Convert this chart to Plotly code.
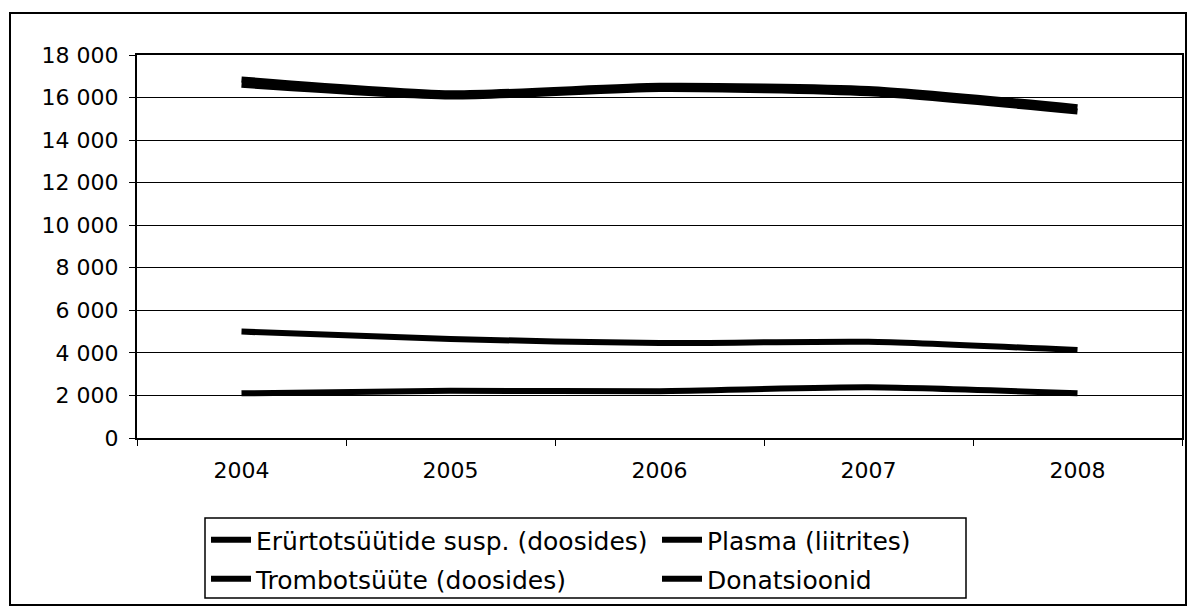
import plotly.graph_objects as go

years = ["2004", "2005", "2006", "2007", "2008"]
erytro = [16850, 16200, 16550, 16400, 15550]
plasma = [5000, 4650, 4460, 4520, 4130]
trombo = [2100, 2220, 2200, 2380, 2100]
donats = [16600, 16050, 16400, 16200, 15350]

names = ["Erürtotsüütide susp. (doosides)", "Plasma (liitrites)",
         "Trombotsüüte (doosides)", "Donatsioonid"]
series = [erytro, plasma, trombo, donats]
legend_ids = ["legend", "legend", "legend2", "legend2"]

fig = go.Figure()
for n, s, lg in zip(names, series, legend_ids):
    fig.add_trace(go.Scatter(x=years, y=s, name=n, mode="lines", legend=lg,
                             line=dict(color="black", width=6, shape="spline", smoothing=0.6)))

W, H = 1194, 608
L, R, T, B = 137, 12, 55, 170
pw, ph = W - L - R, H - T - B

def px(x):
    return (x - L) / pw

def py(y):
    return (H - B - y) / ph

FONT = "DejaVu Sans, Liberation Sans, Arial, sans-serif"
leg_common = dict(orientation="h", xanchor="left", yanchor="middle",
                  entrywidthmode="pixels", entrywidth=396,
                  borderwidth=0, bgcolor="rgba(0,0,0,0)",
                  font=dict(size=25, family=FONT, color="black"), itemwidth=40)

fig.update_layout(
    width=W, height=H,
    margin=dict(l=L, r=R, t=T, b=B, autoexpand=False),
    paper_bgcolor="white", plot_bgcolor="white",
    font=dict(family=FONT, size=22, color="black"),
    separators=", ",
    showlegend=True,
    legend=dict(x=px(206), y=py(540), **leg_common),
    legend2=dict(x=px(206), y=py(579), **leg_common),
    xaxis=dict(type="category", range=[-0.5, 4.5], showline=True, linecolor="black",
               linewidth=2, mirror=True, automargin=False,
               ticks="outside", ticklen=6, tickcolor="black", tickson="boundaries",
               showgrid=False, ticklabelstandoff=12, tickfont=dict(size=22)),
    yaxis=dict(range=[0, 18000], dtick=2000, tickformat=",d", showline=True, linecolor="black",
               linewidth=2, mirror=True, automargin=False, ticks="outside", ticklen=6,
               tickcolor="black", showgrid=True, gridcolor="black", gridwidth=1,
               zeroline=False, ticklabelstandoff=6, tickfont=dict(size=22)),
    shapes=[
        dict(type="rect", xref="paper", yref="paper",
             x0=px(10), x1=px(1186), y0=py(605), y1=py(13),
             line=dict(color="black", width=2), layer="below"),
        dict(type="rect", xref="paper", yref="paper",
             x0=px(205), x1=px(966), y0=py(598), y1=py(518),
             line=dict(color="black", width=1.5), layer="below"),
    ],
)

fig.write_html("out.html", config={"displayModeBar": False},
               post_script="document.body.style.margin='0';")
